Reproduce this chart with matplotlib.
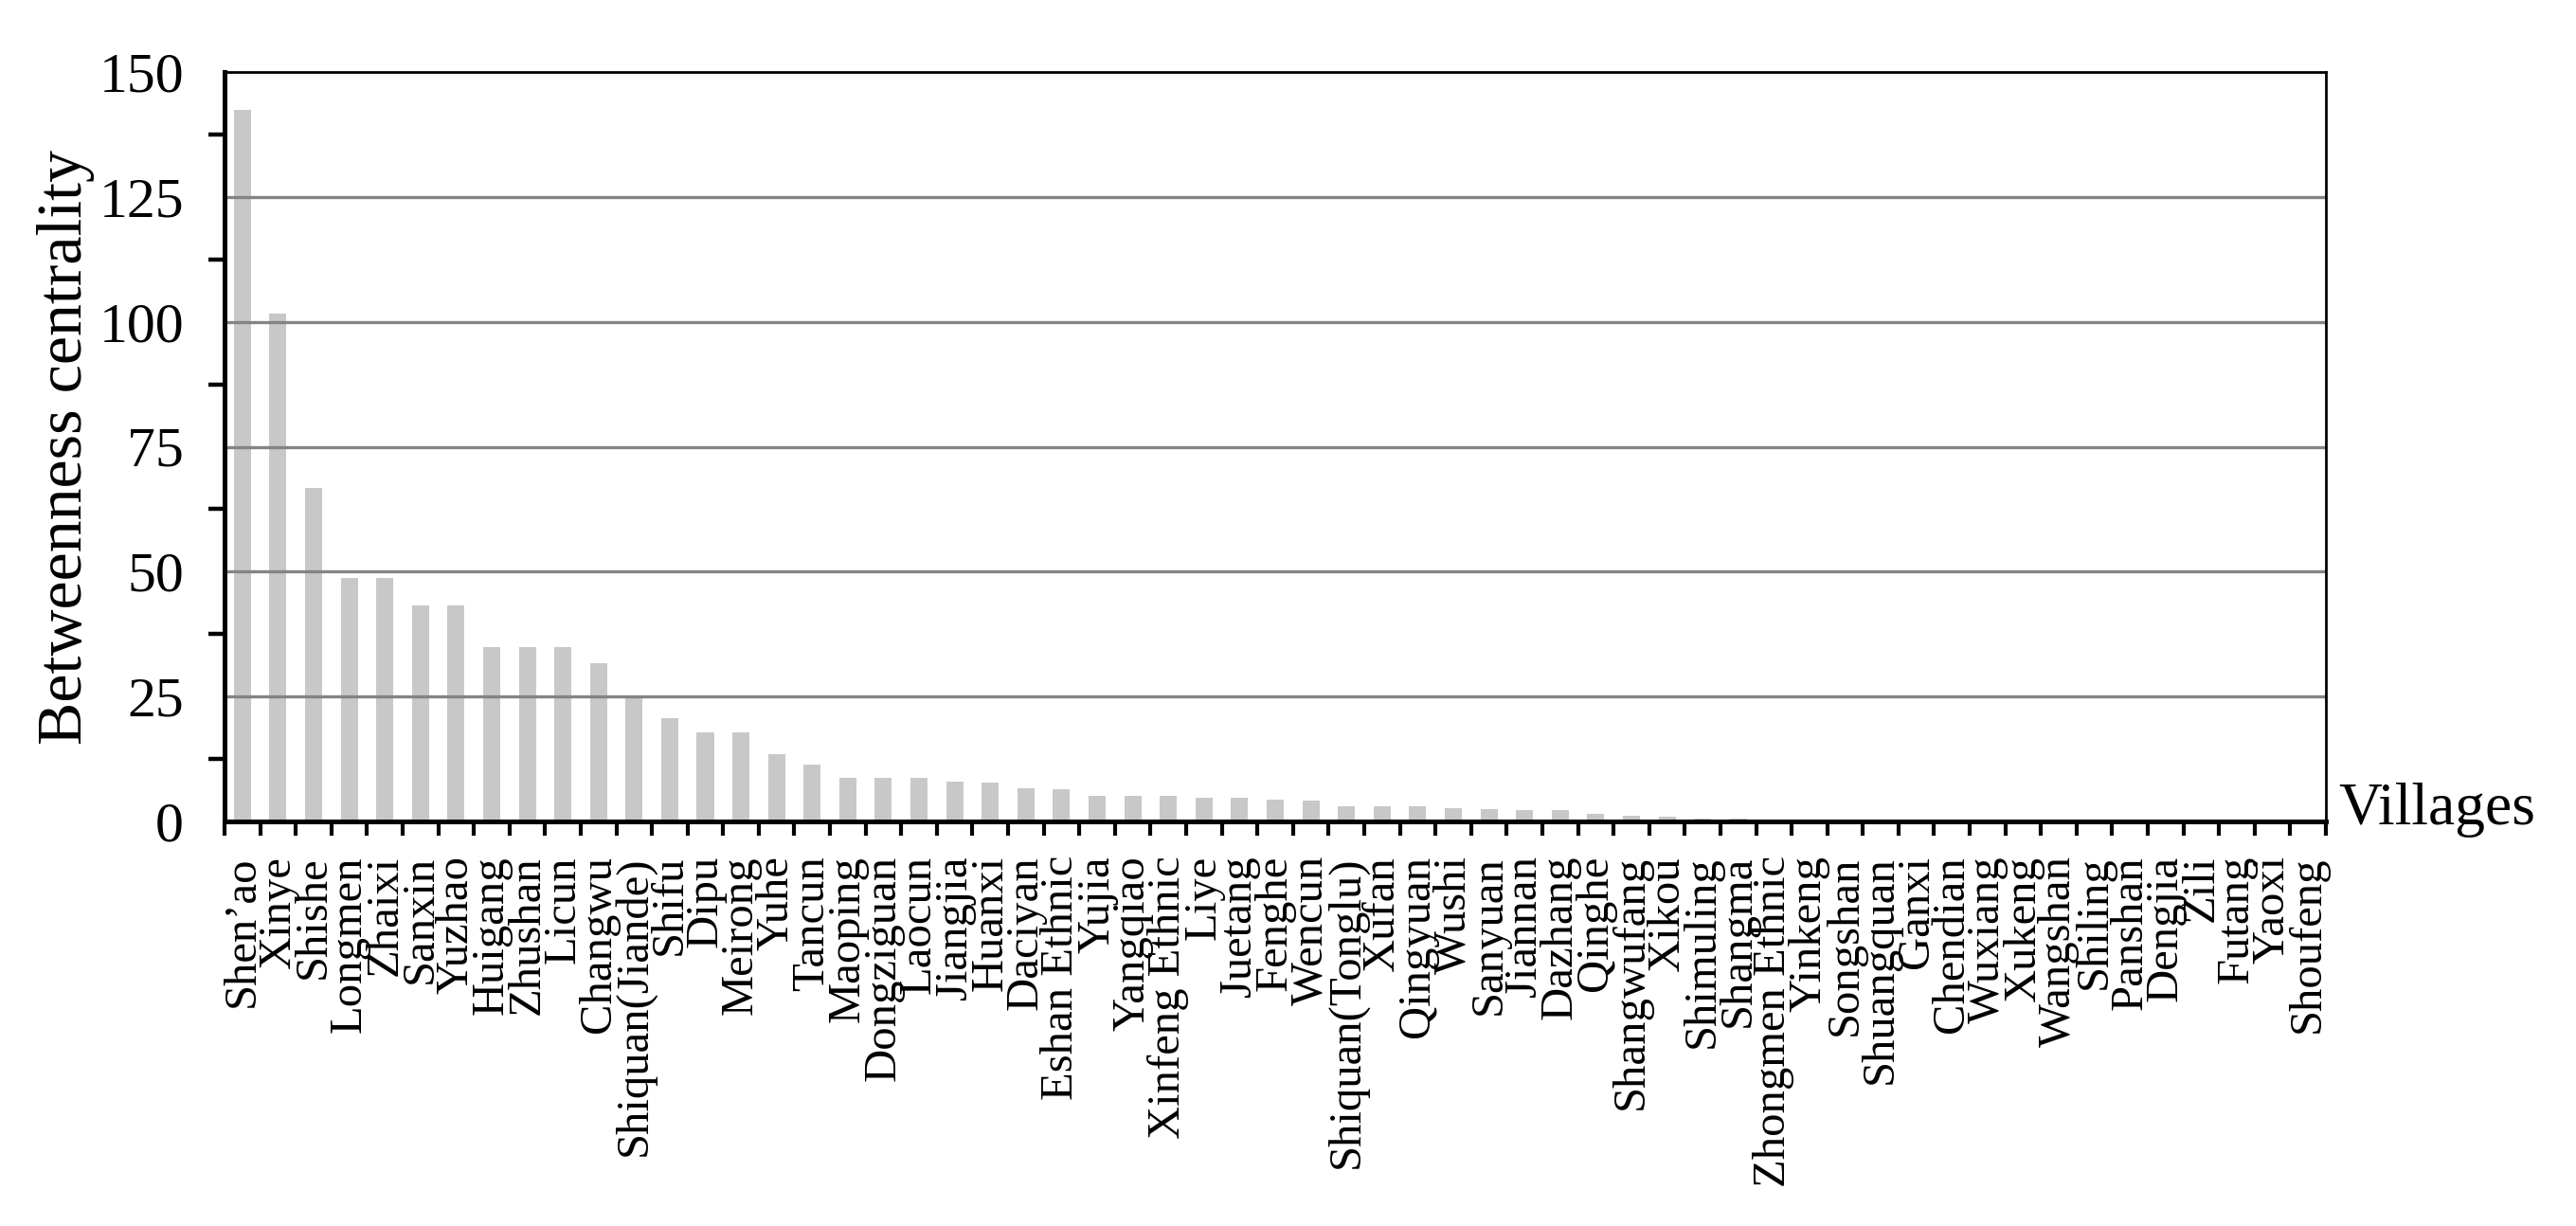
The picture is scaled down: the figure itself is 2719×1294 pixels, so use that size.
import matplotlib
matplotlib.use("Agg")
import matplotlib.pyplot as plt
import numpy as np

villages = ["Shen\u2019ao", "Xinye", "Shishe", "Longmen", "Zhaixi", "Sanxin", "Yuzhao",
            "Huigang", "Zhushan", "Licun", "Changwu", "Shiquan(Jiande)", "Shifu", "Dipu",
            "Meirong", "Yuhe", "Tancun", "Maoping", "Dongziguan", "Laocun", "Jiangjia",
            "Huanxi", "Daciyan", "Eshan Ethnic", "Yujia", "Yangqiao", "Xinfeng Ethnic",
            "Liye", "Juetang", "Fenghe", "Wencun", "Shiquan(Tonglu)", "Xufan", "Qingyuan",
            "Wushi", "Sanyuan", "Jiannan", "Dazhang", "Qinghe", "Shangwufang", "Xikou",
            "Shimuling", "Shangma", "Zhongmen Ethnic", "Yinkeng", "Songshan", "Shuangquan",
            "Ganxi", "Chendian", "Wuxiang", "Xukeng", "Wangshan", "Shiling", "Panshan",
            "Dengjia", "Zili", "Futang", "Yaoxi", "Shoufeng"]
betweenness = [142.5, 101.6, 66.8, 48.7, 48.7, 43.3, 43.3,
               34.8, 34.8, 34.8, 31.7, 25.0, 20.7, 17.9,
               17.9, 13.5, 11.4, 8.7, 8.7, 8.7, 7.9,
               7.7, 6.6, 6.4, 5.2, 5.1, 5.1,
               4.7, 4.7, 4.4, 4.2, 3.0, 3.0, 3.0,
               2.7, 2.45, 2.25, 2.25, 1.45, 1.1, 0.9,
               0.5, 0.5, 0.38, 0.25, 0.2, 0.0,
               0.0, 0.0, 0.0, 0.0, 0.0, 0.0, 0.0,
               0.0, 0.0, 0.0, 0.0, 0.0]
y_ticks = [0, 25, 50, 75, 100, 125, 150]

FONT = "Liberation Serif"
plt.rcParams["font.family"] = [FONT, "DejaVu Serif"]

W, H = 2719, 1294
fig = plt.figure(figsize=(W / 100, H / 100), dpi=100)
ax = fig.add_axes([237 / W, 1 - 867 / H, (2455 - 237) / W, (867 - 76) / H])

x = np.arange(len(villages))
ax.bar(x, betweenness, width=0.48, color="#c8c8c8", zorder=2)

ax.set_xlim(-0.5, len(villages) - 0.5)
ax.set_ylim(0, 150)

# gridlines (drawn over bars)
for v in y_ticks[1:-1]:
    ax.axhline(v, color="#848484", lw=2.4, zorder=3)

# y axis: labels at 25-steps, tick marks at mid positions
ax.set_yticks(y_ticks)
ax.set_yticklabels([str(v) for v in y_ticks])
ax.tick_params(axis="y", which="major", length=0, pad=31, labelsize=43)
ax.set_yticks(np.arange(12.5, 150, 25), minor=True)
ax.tick_params(axis="y", which="minor", length=12, width=3.2, direction="out", color="black")

# x axis: ticks at category boundaries, labels at centres
ax.set_xticks(x)
ax.set_xticklabels(villages, rotation=90, ha="center", va="top")
ax.tick_params(axis="x", which="major", length=0, pad=26, labelsize=35)
ax.set_xticks(np.arange(-0.5, len(villages), 1.0), minor=True)
ax.tick_params(axis="x", which="minor", length=11, width=3.0, direction="out", color="black")

for side in ["left", "bottom"]:
    ax.spines[side].set_linewidth(3.6)
for side in ["top", "right"]:
    ax.spines[side].set_linewidth(2.0)
for s in ax.spines.values():
    s.set_color("black")
    s.set_zorder(4)

fig.text(70 / W, 1 - 472 / H, "Betweenness centrality", rotation=90,
         ha="center", va="center", fontsize=49)
fig.text(2468 / W, 1 - 870 / H, "Villages", ha="left", va="baseline", fontsize=45.7)

fig.savefig("out.png", dpi=100, facecolor="white")
